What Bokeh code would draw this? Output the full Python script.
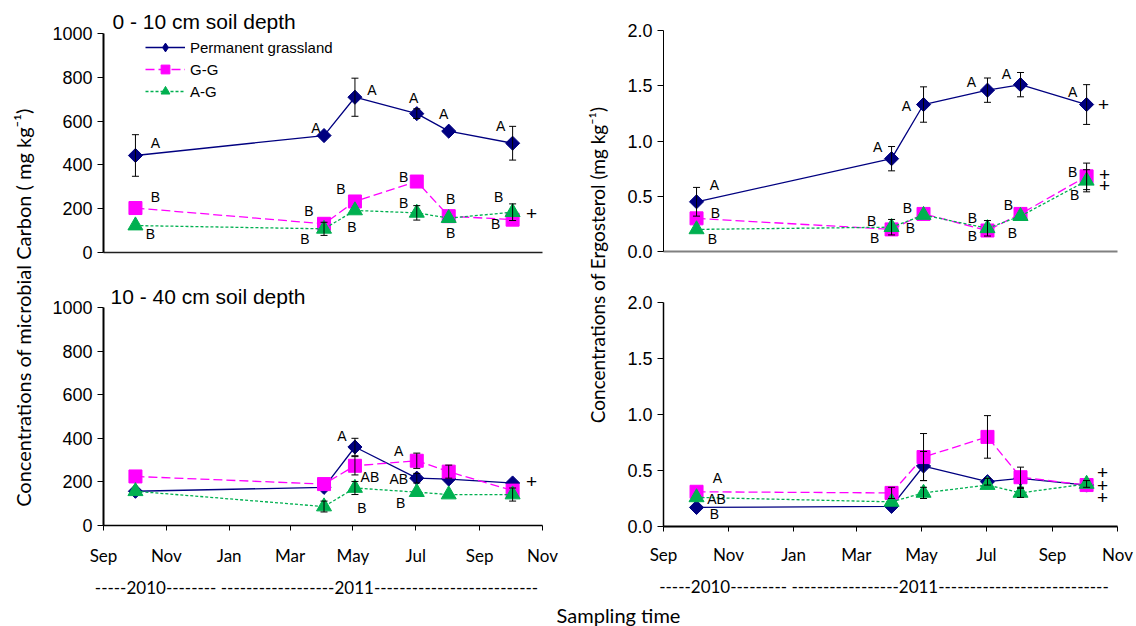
import numpy as np
import pandas as pd
from bokeh.core.properties import value
from bokeh.embed import file_html
from bokeh.layouts import column, row
from bokeh.models import (ColumnDataSource, FixedTicker, Legend, LegendItem,
                          NumeralTickFormatter, Range1d, TeeHead, Whisker)
from bokeh.plotting import figure
from bokeh.resources import INLINE

# ---------------------------------------------------------------- data ----
sampling_dates = ["2010-10-02", "2011-04-03", "2011-05-03",
                  "2011-07-02", "2011-08-02", "2011-10-03"]
month_ticks = ["2010-09-01", "2010-11-01", "2011-01-01", "2011-03-01",
               "2011-05-01", "2011-07-01", "2011-09-01", "2011-11-01"]
month_labels = ["Sep", "Nov", "Jan", "Mar", "May", "Jul", "Sep", "Nov"]
year_caption_left = "-----2010--------    ------------------2011--------------------------"
year_caption_right = "-----2010---------    -----------------2011---------------------------"

series_names = {"pg": "Permanent grassland", "gg": "G-G", "ag": "A-G"}

# microbial carbon, 0 - 10 cm (mg kg-1)
mc_top_pg = [443, 534, 709, 634, 554, 499]
mc_top_gg = [203, 131, 233, 324, 166, 150]
mc_top_ag = [123, 108, 192, 181, 157, 184]
mc_top_pg_err = [95, 0, 87, 22, 0, 77]
mc_top_gg_err = [0, 0, 0, 0, 0, 0]
mc_top_ag_err = [0, 30, 0, 33, 0, 38]

# microbial carbon, 10 - 40 cm (mg kg-1)
mc_sub_pg = [157, 175, 360, 217, 213, 195]
mc_sub_gg = [225, 190, 274, 297, 247, 160]
mc_sub_ag = [157, 87, 172, 153, 142, 142]
mc_sub_pg_err = [0, 0, 40, 22, 0, 0]
mc_sub_gg_err = [0, 0, 42, 35, 30, 0]
mc_sub_ag_err = [0, 25, 30, 0, 0, 30]

# ergosterol, 0 - 10 cm (mg kg-1)
erg_top_pg = [0.45, 0.84, 1.33, 1.46, 1.51, 1.33]
erg_top_gg = [0.30, 0.20, 0.34, 0.19, 0.34, 0.68]
erg_top_ag = [0.20, 0.22, 0.33, 0.21, 0.32, 0.64]
erg_top_pg_err = [0.13, 0.11, 0.16, 0.11, 0.11, 0.18]
erg_top_gg_err = [0, 0, 0, 0, 0, 0.12]
erg_top_ag_err = [0, 0.07, 0, 0.07, 0, 0.10]

# ergosterol, 10 - 40 cm (mg kg-1)
erg_sub_pg = [0.17, 0.18, 0.54, 0.40, 0.43, 0.37]
erg_sub_gg = [0.31, 0.30, 0.62, 0.80, 0.44, 0.37]
erg_sub_ag = [0.26, 0.22, 0.30, 0.37, 0.30, 0.38]
erg_sub_pg_err = [0, 0, 0.13, 0.03, 0, 0]
erg_sub_gg_err = [0, 0.05, 0.21, 0.19, 0.09, 0]
erg_sub_ag_err = [0, 0, 0.05, 0, 0.04, 0.03]

# significance letters: (series, sampling index, text)
mc_top_letters = [("pg", 0, "A"), ("pg", 1, "A"), ("pg", 2, "A"), ("pg", 3, "A"),
                  ("pg", 4, "A"), ("pg", 5, "A"),
                  ("gg", 0, "B"), ("gg", 1, "B"), ("gg", 2, "B"), ("gg", 3, "B"),
                  ("gg", 4, "B"), ("gg", 5, "B"),
                  ("ag", 0, "B"), ("ag", 1, "B"), ("ag", 2, "B"), ("ag", 3, "B"),
                  ("ag", 4, "B"), ("ag", 5, "B"), ("ag", 5, "+")]
mc_sub_letters = [("pg", 2, "A"), ("gg", 2, "AB"), ("ag", 2, "B"),
                  ("gg", 3, "A"), ("pg", 3, "AB"), ("ag", 3, "B"), ("pg", 5, "+")]
erg_top_letters = [("pg", 0, "A"), ("pg", 1, "A"), ("pg", 2, "A"), ("pg", 3, "A"),
                   ("pg", 4, "A"), ("pg", 5, "A"), ("pg", 5, "+"),
                   ("gg", 0, "B"), ("ag", 0, "B"), ("ag", 1, "B"), ("gg", 1, "B"),
                   ("gg", 2, "B"), ("ag", 2, "B"), ("ag", 3, "B"), ("gg", 3, "B"),
                   ("gg", 4, "B"), ("ag", 4, "B"), ("gg", 5, "B"), ("ag", 5, "B"),
                   ("gg", 5, "+"), ("ag", 5, "+")]
erg_sub_letters = [("gg", 0, "A"), ("ag", 0, "AB"), ("pg", 0, "B"),
                   ("pg", 5, "+"), ("gg", 5, "+"), ("ag", 5, "+")]

# screen offsets (px) of each letter from its marker
mc_top_offsets = [(20, -12), (-8, -8), (17, -7), (-3, -16), (-5, -17), (-12, -17),
                  (20, -11), (-15, -13), (-14, -12), (-13, -5), (2, -17), (-17, 4),
                  (15, 8), (-19, 10), (-3, 17), (-13, -10), (2, 15), (-14, -15), (19, 1)]
mc_sub_offsets = [(-13, -11), (15, 11), (7, 20), (-18, -10), (-18, 1), (-16, 11), (19, -1)]
erg_top_offsets = [(18, -17), (-14, -12), (-17, 1), (-16, -8), (-14, -11), (-14, -13), (17, 0),
                   (19, -5), (16, 10), (-20, -6), (-17, 9), (-16, -6), (-13, 13),
                   (-15, -10), (-15, 5), (-12, -9), (-8, 17), (-14, -4), (-12, 14),
                   (18, -2), (18, 5)]
erg_sub_offsets = [(21, -14), (20, 2), (18, 7), (16, -13), (16, 0), (16, 14)]

# ---------------------------------------------------------------- style ---
ARIAL = "Liberation Sans"
SANS = "Lato"
STYLE = {
    "pg": dict(color="#000080", dash="solid", marker="square", size=10, angle=np.pi / 4),
    "gg": dict(color="#FF00FF", dash="9 4", marker="square", size=13, angle=0.0),
    "ag": dict(color="#00B050", dash="3 2", marker="triangle", size=15, angle=0.0),
}


def to_ms(dates):
    return [float(v) for v in pd.DatetimeIndex(dates).asi8 // 10**6]


X = to_ms(sampling_dates)
TICKS = to_ms(month_ticks)


def panel(width, height, borders, ymax, ystep, yfmt, values, errors, letters, offsets,
          title=None, title_standoff=3, title_offset=9, show_months=False,
          caption="", yline=1.5, xline=1.5, xline_color="black",
          month_standoff=14, caption_standoff=8):
    left, right, top, bottom = borders
    p = figure(width=width, height=height, toolbar_location=None, output_backend="svg",
               x_range=Range1d(TICKS[0], TICKS[-1]), y_range=Range1d(0, ymax),
               min_border_left=left, min_border_right=right,
               min_border_top=top, min_border_bottom=bottom,
               outline_line_color=None, title=title)
    p.grid.visible = False
    if title:
        p.title.text_font = ARIAL
        p.title.text_font_size = "21px"
        p.title.text_font_style = "normal"
        p.title.text_color = "black"
        p.title.align = "left"
        p.title.offset = title_offset
        p.title.standoff = title_standoff

    ya = p.yaxis[0]
    ya.ticker = FixedTicker(ticks=list(np.arange(0, ymax + ystep / 2, ystep)))
    ya.formatter = NumeralTickFormatter(format=yfmt)
    ya.axis_line_color = "black"
    ya.axis_line_width = yline
    ya.major_tick_line_color = "black"
    ya.major_tick_out = 6
    ya.major_tick_in = 0
    ya.minor_tick_line_color = None
    ya.major_label_text_font = ARIAL
    ya.major_label_text_font_size = "18px"
    ya.major_label_text_color = "black"
    ya.major_label_standoff = 5

    xa = p.xaxis[0]
    xa.axis_line_color = xline_color
    xa.axis_line_width = xline
    xa.minor_tick_line_color = None
    if show_months:
        xa.ticker = FixedTicker(ticks=TICKS)
        xa.major_label_overrides = {t: lab for t, lab in zip(TICKS, month_labels)}
        xa.major_tick_out = 5
        xa.major_tick_in = 0
        xa.major_tick_line_color = "black"
        xa.major_label_text_font = SANS
        xa.major_label_text_font_size = "17px"
        xa.major_label_text_color = "black"
        xa.major_label_standoff = month_standoff
        xa.axis_label = caption
        xa.axis_label_text_font = SANS
        xa.axis_label_text_font_size = "17px"
        xa.axis_label_text_font_style = "normal"
        xa.axis_label_text_color = "black"
        xa.axis_label_standoff = caption_standoff
    else:
        xa.ticker = FixedTicker(ticks=[])
        xa.major_tick_line_color = None

    renderers = {}
    for key in ("pg", "gg", "ag"):
        st = STYLE[key]
        src = ColumnDataSource(dict(x=X, y=values[key]))
        ln = p.line("x", "y", source=src, line_color=st["color"], line_width=1.3,
                    line_dash=st["dash"])
        swatch = None
        if key == "pg":
            # small upright diamond that sits inside the tilted square; its
            # shape is what the legend swatch shows
            swatch = p.scatter("x", "y", source=src, marker="diamond", size=8,
                               fill_color=st["color"], line_color=st["color"])
        sc = p.scatter("x", "y", source=src, marker=st["marker"], size=st["size"],
                       angle=st["angle"], fill_color=st["color"], line_color=st["color"])
        renderers[key] = (ln, swatch if swatch is not None else sc)

    for key in ("pg", "gg", "ag"):
        idx = [i for i, e in enumerate(errors[key]) if e > 0]
        if not idx:
            continue
        src = ColumnDataSource(dict(
            x=[X[i] for i in idx],
            upper=[values[key][i] + errors[key][i] for i in idx],
            lower=[values[key][i] - errors[key][i] for i in idx]))
        w = Whisker(source=src, base="x", upper="upper", lower="lower", dimension="height",
                    line_color="black", line_width=1, level="annotation",
                    upper_head=TeeHead(size=7, line_color="black", line_width=1),
                    lower_head=TeeHead(size=7, line_color="black", line_width=1))
        p.add_layout(w)

    lab = dict(x=[], y=[], t=[], dx=[], dy=[], fs=[])
    for (key, i, txt), (dx, dy) in zip(letters, offsets):
        lab["x"].append(X[i])
        lab["y"].append(values[key][i])
        lab["t"].append(txt)
        lab["dx"].append(dx)
        lab["dy"].append(dy)
        lab["fs"].append("19px" if txt == "+" else "14px")
    p.text("x", "y", text="t", x_offset="dx", y_offset="dy", text_font_size="fs",
           source=ColumnDataSource(lab), text_font=value(ARIAL), text_color="black",
           text_align="center", text_baseline="middle")
    return p, renderers


def strip(width, height, text, tx, ty, angle=0.0, size="18px"):
    s = figure(width=width, height=height, toolbar_location=None, output_backend="svg",
               x_range=Range1d(0, width), y_range=Range1d(0, height),
               x_axis_location=None, y_axis_location=None, min_border=0,
               outline_line_color=None)
    s.grid.visible = False
    s.text(x=[tx], y=[ty], text=[text], angle=angle, text_font=value(SANS),
           text_font_size=size, text_color="black", text_align="center",
           text_baseline="middle")
    return s


tl, tl_r = panel(538, 275, (61, 33, 33, 23), 1000, 200, "0",
                 dict(pg=mc_top_pg, gg=mc_top_gg, ag=mc_top_ag),
                 dict(pg=mc_top_pg_err, gg=mc_top_gg_err, ag=mc_top_ag_err),
                 mc_top_letters, mc_top_offsets, title="0 - 10 cm soil depth",
                 title_standoff=2, title_offset=9, yline=2, xline=1.5,
                 xline_color="#202020")

legend = Legend(items=[LegendItem(label=series_names[k], renderers=list(tl_r[k]))
                       for k in ("pg", "gg", "ag")],
                location=(42, 150), glyph_width=40, glyph_height=22, spacing=0,
                padding=0, margin=0, label_standoff=5, border_line_color=None,
                background_fill_alpha=0, label_text_font=ARIAL,
                label_text_font_size="15px", label_text_color="black")
tl.add_layout(legend)

bl, _ = panel(538, 325, (61, 38, 32, 70), 1000, 200, "0",
              dict(pg=mc_sub_pg, gg=mc_sub_gg, ag=mc_sub_ag),
              dict(pg=mc_sub_pg_err, gg=mc_sub_gg_err, ag=mc_sub_ag_err),
              mc_sub_letters, mc_sub_offsets, title="10 - 40 cm soil depth",
              title_standoff=0, title_offset=7, show_months=True,
              caption=year_caption_left, yline=2, xline=1.5,
              month_standoff=14, caption_standoff=8)

tr, _ = panel(521, 275, (48, 13, 30, 24), 2.0, 0.5, "0.0",
              dict(pg=erg_top_pg, gg=erg_top_gg, ag=erg_top_ag),
              dict(pg=erg_top_pg_err, gg=erg_top_gg_err, ag=erg_top_ag_err),
              erg_top_letters, erg_top_offsets, yline=1, xline=2,
              xline_color="#808080")

br, _ = panel(521, 325, (48, 19, 27, 74), 2.0, 0.5, "0.0",
              dict(pg=erg_sub_pg, gg=erg_sub_gg, ag=erg_sub_ag),
              dict(pg=erg_sub_pg_err, gg=erg_sub_gg_err, ag=erg_sub_ag_err),
              erg_sub_letters, erg_sub_offsets, show_months=True,
              caption=year_caption_right, yline=1.5, xline=2,
              month_standoff=12, caption_standoff=8)

left_title = strip(42, 600, "Concentrations of  microbial Carbon  ( mg kg\u207b\u00b9)",
                   22, 298, angle=np.pi / 2, size="20px")
right_title = strip(35, 600, "Concentrations of  Ergosterol (mg kg\u207b\u00b9)",
                    17, 338, angle=np.pi / 2, size="19px")
bottom_title = strip(1136, 26, "Sampling time", 618, 12, size="20px")

page = column(row(left_title, column(tl, bl), right_title, column(tr, br)), bottom_title)

with open("out.html", "w") as fh:
    fh.write(file_html(page, INLINE))
